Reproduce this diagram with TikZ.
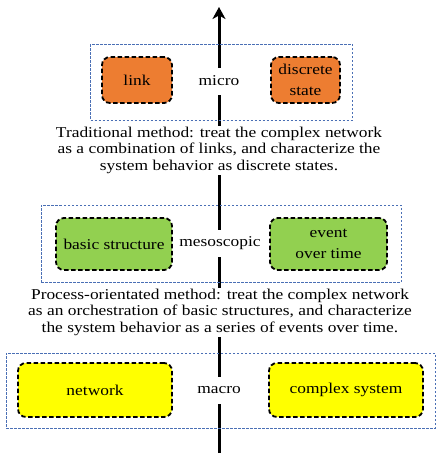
\documentclass[tikz,border=0pt]{standalone}
\usepackage{fontspec}
\setmainfont{Liberation Serif}[FakeStretch=1.16]
\usetikzlibrary{arrows.meta}
\begin{document}
\begin{tikzpicture}[x=1pt,y=-1pt,
  every node/.style={font=\fontsize{15}{16.7}\selectfont},
  outerbox/.style={draw=blueD, dash pattern=on 2.5pt off 1.5pt, line width=0.9pt, inner sep=0pt},
  innerbox/.style={draw=black, line width=1.8pt, dash pattern=on 4.5pt off 2.5pt, rounded corners=8pt, align=center, font=\fontsize{15}{21.5}\selectfont},
  lvl/.style={fill=white, inner xsep=2pt, inner ysep=0pt, minimum height=27pt},
  desc/.style={fill=white, align=center, inner sep=1pt},
  axis/.style={line width=3pt, -{Stealth[length=12pt,width=13pt,inset=3.5pt]}}]
\useasboundingbox (0,0) rectangle (443,461);
\definecolor{orangeB}{HTML}{ED7D31}
\definecolor{greenB}{HTML}{92D050}
\definecolor{yellowB}{HTML}{FFFF00}
\definecolor{blueD}{HTML}{4A6FB5}
% axis
\coordinate (bot) at (219,453);
\coordinate (top) at (219,7);
\draw[axis] (bot) -- (top);
% outer boxes
\node[outerbox, minimum width=262pt, minimum height=76pt] (microbox) at (221.5,82) {};
\node[outerbox, minimum width=360pt, minimum height=77pt] (mesobox) at (221,243.5) {};
\node[outerbox, minimum width=429pt, minimum height=75pt] (macrobox) at (220.5,390.5) {};
% micro
\node[innerbox, fill=orangeB, minimum width=70pt, minimum height=46pt] (link) at (137,80) {link};
\node[innerbox, fill=orangeB, minimum width=69pt, minimum height=46pt] (dstate) at (305.5,80) {discrete\\state};
\node[lvl] (micro) at (219,81) {micro};
\node[desc] (t1) at (219,150.4) {Traditional method: treat the complex network\\as a combination of links, and characterize the\\system behavior as discrete states.};
% meso
\node[innerbox, fill=greenB, minimum width=116pt, minimum height=52pt] (basic) at (114,244) {basic structure};
\node[innerbox, fill=greenB, minimum width=117pt, minimum height=52pt] (event) at (328.5,244) {event\\over time};
\node[lvl] (meso) at (220,243) {mesoscopic};
\node[desc] (t2) at (220,312.2) {Process-orientated method: treat the complex network\\as an orchestration of basic structures, and characterize\\the system behavior as a series of events over time.};
% macro
\node[innerbox, fill=yellowB, minimum width=154pt, minimum height=54pt] (network) at (95,390) {network};
\node[innerbox, fill=yellowB, minimum width=154pt, minimum height=54pt] (csys) at (346,390) {complex system};
\node[lvl] (macro) at (219,390) {macro};
\end{tikzpicture}
\end{document}
